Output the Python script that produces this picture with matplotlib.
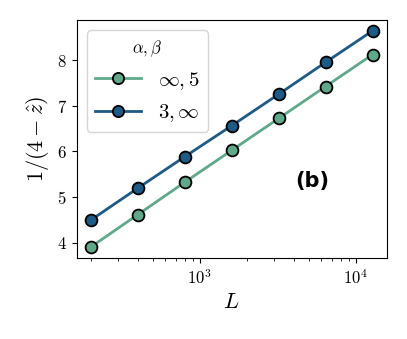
import numpy as np
import matplotlib
matplotlib.use("Agg")
import matplotlib.pyplot as plt

plt.rcParams['mathtext.fontset'] = 'cm'
plt.rcParams['font.family'] = 'serif'
plt.rcParams['font.serif'] = ['cmr10']
plt.rcParams['axes.formatter.use_mathtext'] = True

L = [200, 400, 800, 1600, 3200, 6400, 12800]
y_inf5 = [3.90, 4.61, 5.32, 6.02, 6.72, 7.42, 8.12]
y_3inf = [4.49, 5.19, 5.88, 6.56, 7.25, 7.95, 8.64]
labels = [r'$\infty, 5$', r'$3, \infty$']
colors = ['#5fa98a', '#1d5a85']

fig = plt.figure(figsize=(4.07, 3.39), dpi=100)
ax = fig.add_axes([0.188, 0.239, 0.762, 0.702])

for y, lab, c in zip([y_inf5, y_3inf], labels, colors):
    ax.plot(L, y, '-o', color=c, lw=2, ms=8.5, mec='black', mew=1.3, label=lab)

ax.set_xscale('log')
ax.set_xlabel(r'$L$', fontsize=16)
ax.set_ylabel(r'$1/(4-\hat{z})$', fontsize=16)
ax.tick_params(labelsize=12)
ax.set_yticks([4, 5, 6, 7, 8])

ax.text(0.76, 0.325, '(b)', transform=ax.transAxes, fontsize=15,
        fontweight='bold', family='DejaVu Sans', ha='center', va='center')

leg = ax.legend(title=r'$\alpha, \beta$', fontsize=15, title_fontsize=12,
                loc='upper left', handlelength=2.2, markerscale=0.95)

fig.savefig('out.png', dpi=100)
